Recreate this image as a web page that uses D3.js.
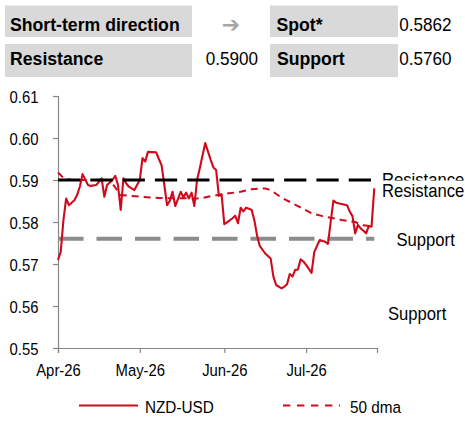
<!DOCTYPE html>
<html>
<head>
<meta charset="utf-8">
<script src="https://cdn.jsdelivr.net/npm/d3@7"></script>
<style>
  html, body { margin: 0; padding: 0; background: #fff; }
  svg { display: block; }
  text { font-family: "Liberation Sans", Arial, sans-serif; }
</style>
</head>
<body>
<svg id="chart" width="465" height="421"></svg>
<script>
// ---------------- DATA ----------------
const nzdDates = ["2026-04-01","2026-04-02","2026-04-03","2026-04-04","2026-04-05","2026-04-07","2026-04-08","2026-04-09","2026-04-10","2026-04-12","2026-04-13","2026-04-15","2026-04-17","2026-04-18","2026-04-19","2026-04-21","2026-04-22","2026-04-23","2026-04-24","2026-04-25","2026-04-26","2026-04-27","2026-04-29",
"2026-05-01","2026-05-02","2026-05-03","2026-05-04","2026-05-07","2026-05-08","2026-05-09","2026-05-11","2026-05-12","2026-05-13","2026-05-14","2026-05-16","2026-05-17","2026-05-18","2026-05-19","2026-05-20","2026-05-21","2026-05-22","2026-05-23","2026-05-25","2026-05-27","2026-05-28","2026-05-29","2026-05-30","2026-05-31",
"2026-06-01","2026-06-02","2026-06-04","2026-06-05","2026-06-06","2026-06-07","2026-06-08","2026-06-09","2026-06-11","2026-06-12","2026-06-13","2026-06-14","2026-06-16","2026-06-18","2026-06-19","2026-06-20","2026-06-22","2026-06-23","2026-06-24","2026-06-25","2026-06-26","2026-06-27","2026-06-28","2026-06-29","2026-06-30",
"2026-07-01","2026-07-03","2026-07-04","2026-07-06","2026-07-08","2026-07-09","2026-07-11","2026-07-12","2026-07-16","2026-07-17","2026-07-18","2026-07-19","2026-07-20","2026-07-21","2026-07-23","2026-07-24","2026-07-25","2026-07-26"];
const nzdValues = [0.5710,0.5729,0.5805,0.5856,0.5840,0.5852,0.5864,0.5884,0.5914,0.5888,0.5886,0.5888,0.5904,0.5860,0.5888,0.5900,0.5910,0.5888,0.5829,0.5904,0.5892,0.5884,0.5876,
0.5900,0.5952,0.5944,0.5967,0.5966,0.5950,0.5935,0.5840,0.5850,0.5872,0.5838,0.5872,0.5859,0.5870,0.5856,0.5870,0.5838,0.5900,0.5928,0.5988,0.5948,0.5930,0.5924,0.5862,0.5866,
0.5795,0.5799,0.5809,0.5815,0.5797,0.5834,0.5825,0.5834,0.5829,0.5805,0.5768,0.5743,0.5725,0.5713,0.5670,0.5650,0.5642,0.5646,0.5652,0.5676,0.5670,0.5686,0.5687,0.5711,0.5706,
0.5698,0.5679,0.5729,0.5757,0.5753,0.5748,0.5851,0.5846,0.5840,0.5825,0.5814,0.5773,0.5793,0.5785,0.5773,0.5790,0.5789,0.5880];

const dmaDates = ["2026-04-01","2026-04-03","2026-04-06","2026-04-20","2026-04-24","2026-05-08","2026-05-23","2026-05-26","2026-05-31","2026-06-07","2026-06-11","2026-06-16","2026-06-18","2026-06-22","2026-06-28","2026-07-03","2026-07-07","2026-07-14","2026-07-19","2026-07-22","2026-07-26"];
const dmaValues = [0.5918,0.5905,0.5900,0.5900,0.5864,0.5857,0.5856,0.5860,0.5866,0.5872,0.5878,0.5880,0.5876,0.5858,0.5838,0.5821,0.5814,0.5805,0.5800,0.5792,0.5789];

const levelDates = ["2026-04-01","2026-07-26"];
const resistanceLevel = 0.5900;
const supportLevel = 0.5760;

const xDomain = ["2026-04-01","2026-07-27"];
const yDomain = [0.55, 0.61];
const yTicks = [0.55, 0.56, 0.57, 0.58, 0.59, 0.60, 0.61];
const xTickDates = ["2026-04-01","2026-05-01","2026-06-01","2026-07-01"];
const xTickLabels = ["Apr-26","May-26","Jun-26","Jul-26"];

const headerLabels = ["Short-term direction", "Spot*", "Resistance", "Support"];
const headerValues = ["0.5862", "0.5900", "0.5760"];
const directionSymbol = "➔";
const levelLabels = ["Resistance", "Resistance", "Support", "Support"];
const seriesNames = ["NZD-USD", "50 dma"];

// ---------------- SETUP ----------------
const parse = d3.utcParse("%Y-%m-%d");
const svg = d3.select("#chart");
const RED = "#cf0a1d";
const SX = 0.9;

const x = d3.scaleUtc().domain(xDomain.map(parse)).range([58, 377]);
const y = d3.scaleLinear().domain(yDomain).range([348, 96]);

function txt(g, px, py, s, o) {
  o = o || {};
  return g.append("text")
    .attr("transform", `translate(${px},${py}) scale(${o.sx || SX},1)`)
    .attr("text-anchor", o.anchor || "start")
    .attr("font-size", o.size || 16.5)
    .attr("font-weight", o.weight || "normal")
    .attr("fill", o.fill || "#000")
    .style("font-family", o.family || null)
    .text(s);
}

// ---------------- HEADER ----------------
const hdr = svg.append("g");
hdr.append("rect").attr("x", 5).attr("y", 5.5).attr("width", 187).attr("height", 31.5).attr("fill", "#d9d9d9");
hdr.append("rect").attr("x", 270).attr("y", 5.5).attr("width", 128).attr("height", 31.5).attr("fill", "#d9d9d9");
hdr.append("rect").attr("x", 5).attr("y", 44).attr("width", 187).attr("height", 33).attr("fill", "#d9d9d9");
hdr.append("rect").attr("x", 270).attr("y", 44).attr("width", 128).attr("height", 33).attr("fill", "#d9d9d9");

txt(hdr, 10, 30.5, headerLabels[0], {size: 19, weight: "bold", sx: 0.93});
txt(hdr, 276.5, 30.5, headerLabels[1], {size: 19, weight: "bold", sx: 0.93});
txt(hdr, 10, 65, headerLabels[2], {size: 19, weight: "bold", sx: 0.93});
txt(hdr, 277, 65, headerLabels[3], {size: 19, weight: "bold", sx: 0.93});
txt(hdr, 451.5, 30.5, headerValues[0], {size: 19, anchor: "end"});
txt(hdr, 258, 65, headerValues[1], {size: 19, anchor: "end"});
txt(hdr, 451.5, 65, headerValues[2], {size: 19, anchor: "end"});
txt(hdr, 231, 31.5, directionSymbol, {size: 22, fill: "#a6a6a6", anchor: "middle", sx: 1, family: "DejaVu Sans"});

// ---------------- AXES ----------------
const AX = "#868686";
const yAxis = svg.append("g").attr("transform", "translate(58,0)")
  .call(d3.axisLeft(y).tickValues(yTicks).tickSize(5).tickFormat(d3.format(".2f")));
const xAxis = svg.append("g").attr("transform", "translate(0,348)")
  .call(d3.axisBottom(x).tickValues(xTickDates.map(parse)).tickSize(5)
    .tickFormat((d, i) => xTickLabels[i]));
[yAxis, xAxis].forEach(a => {
  a.select(".domain").attr("stroke", AX).attr("stroke-width", 1.2);
  a.selectAll(".tick line").attr("stroke", AX).attr("stroke-width", 1.2);
  a.selectAll("text").attr("fill", "#000").attr("font-size", 16.5)
    .style("font-family", '"Liberation Sans", Arial, sans-serif');
});
yAxis.selectAll(".tick text").attr("x", null).attr("dy", null)
  .attr("transform", `translate(-19.5,6) scale(${SX},1)`);
xAxis.selectAll(".tick text").attr("y", null).attr("dy", null)
  .attr("transform", `translate(0,28) scale(${SX},1)`);

// ---------------- SERIES ----------------
const line = d3.line().x(d => x(d[0])).y(d => y(d[1]));
const nzd = nzdDates.map((d, i) => [parse(d), nzdValues[i]]);
const dma = dmaDates.map((d, i) => [parse(d), dmaValues[i]]);
const res = levelDates.map(d => [parse(d), resistanceLevel]);
const sup = levelDates.map(d => [parse(d), supportLevel]);

svg.append("path").datum(dma).attr("d", line).attr("fill", "none")
  .attr("stroke", RED).attr("stroke-width", 2).attr("stroke-dasharray", "7,5");
svg.append("path").datum(sup).attr("d", line).attr("fill", "none")
  .attr("stroke", "#8c8c8c").attr("stroke-width", 4).attr("stroke-dasharray", "25.5,13");
svg.append("path").datum(nzd).attr("d", line).attr("fill", "none")
  .attr("stroke", RED).attr("stroke-width", 2.1).attr("stroke-linejoin", "round");
svg.append("path").datum(res).attr("d", line).attr("fill", "none")
  .attr("stroke", "#000").attr("stroke-width", 3.2).attr("stroke-dasharray", "22.3,10");

// ---------------- LEVEL LABELS ----------------
// first "Resistance" label is partly hidden in the original (only its upper half shows)
svg.append("defs").append("clipPath").attr("id", "clipTop").append("rect")
  .attr("x", 370).attr("y", 160).attr("width", 95).attr("height", 20.5);
const lab = svg.append("g");
lab.append("g").attr("clip-path", "url(#clipTop)")
  .call(g => txt(g, 382, 186, levelLabels[0], {size: 18.5}));
txt(lab, 382, 197, levelLabels[1], {size: 18.5});
txt(lab, 396.5, 245.5, levelLabels[2], {size: 18.5});
txt(lab, 388, 319.5, levelLabels[3], {size: 18.5});

// ---------------- LEGEND ----------------
const leg = svg.append("g");
leg.append("line").attr("x1", 79).attr("x2", 138).attr("y1", 405.5).attr("y2", 405.5)
  .attr("stroke", RED).attr("stroke-width", 2);
txt(leg, 145, 413, seriesNames[0], {size: 17});
leg.append("line").attr("x1", 283).attr("x2", 340).attr("y1", 405.5).attr("y2", 405.5)
  .attr("stroke", RED).attr("stroke-width", 2).attr("stroke-dasharray", "7.3,6.7");
txt(leg, 350, 413, seriesNames[1], {size: 17});
</script>
</body>
</html>
